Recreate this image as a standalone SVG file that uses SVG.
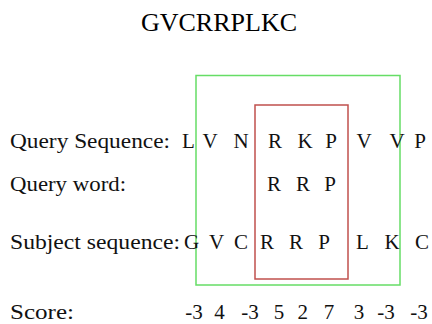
<svg xmlns="http://www.w3.org/2000/svg" width="432" height="324" viewBox="0 0 432 324">
<style>
.title{font-family:"Liberation Serif","Times New Roman",serif;font-size:26px;fill:#000}
.t{font-family:"Liberation Serif","Times New Roman",serif;font-size:21px;fill:#111}
.c{text-anchor:middle}
.box{fill:none;stroke-width:1.5}
</style>
<rect width="432" height="324" fill="#fff"/>
<text class="title" x="219" y="30.5" text-anchor="middle">GVCRRPLKC</text>
<g id="boxes">
<rect class="box" x="196" y="75.5" width="204" height="209.5" stroke="#66dd66"/>
<rect class="box" x="255" y="105" width="93" height="174" stroke="#c0504d"/>
</g>
<g id="labels">
<text class="t" x="10" y="148" textLength="160" lengthAdjust="spacingAndGlyphs">Query Sequence:</text>
<text class="t" x="10" y="190.5" textLength="116" lengthAdjust="spacingAndGlyphs">Query word:</text>
<text class="t" x="10" y="249" textLength="170" lengthAdjust="spacingAndGlyphs">Subject sequence:</text>
<text class="t" x="10" y="319" textLength="64" lengthAdjust="spacingAndGlyphs">Score:</text>
</g>
<g id="query-seq">
<text class="t c" x="188.5" y="148">L</text>
<text class="t c" x="210" y="148">V</text>
<text class="t c" x="241" y="148">N</text>
<text class="t c" x="275" y="148">R</text>
<text class="t c" x="305" y="148">K</text>
<text class="t c" x="331" y="148">P</text>
<text class="t c" x="364" y="148">V</text>
<text class="t c" x="397" y="148">V</text>
<text class="t c" x="420" y="148">P</text>
</g>
<g id="query-word">
<text class="t c" x="274" y="190.5">R</text>
<text class="t c" x="303" y="190.5">R</text>
<text class="t c" x="330" y="190.5">P</text>
</g>
<g id="subject-seq">
<text class="t c" x="191.5" y="249">G</text>
<text class="t c" x="216.5" y="249">V</text>
<text class="t c" x="241" y="249">C</text>
<text class="t c" x="267" y="249">R</text>
<text class="t c" x="296" y="249">R</text>
<text class="t c" x="324" y="249">P</text>
<text class="t c" x="362.5" y="249">L</text>
<text class="t c" x="392" y="249">K</text>
<text class="t c" x="422" y="249">C</text>
</g>
<g id="scores">
<text class="t c" x="194" y="319">-3</text>
<text class="t c" x="219.5" y="319">4</text>
<text class="t c" x="250" y="319">-3</text>
<text class="t c" x="279" y="319">5</text>
<text class="t c" x="302.7" y="319">2</text>
<text class="t c" x="329" y="319">7</text>
<text class="t c" x="359" y="319">3</text>
<text class="t c" x="386" y="319">-3</text>
<text class="t c" x="419" y="319">-3</text>
</g>
</svg>
